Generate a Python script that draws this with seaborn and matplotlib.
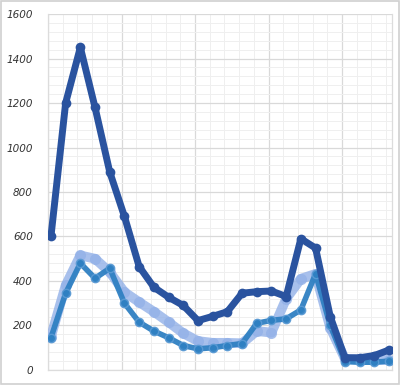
import numpy as np
import pandas as pd
import seaborn as sns
import matplotlib.pyplot as plt
from matplotlib.ticker import FixedLocator, MultipleLocator
from matplotlib.patches import Rectangle

hours = list(range(24))
series_dark = [600, 1200, 1450, 1180, 890, 690, 465, 372, 327, 290, 222, 241,
               262, 345, 352, 355, 330, 590, 548, 240, 55, 55, 65, 90]
series_mid = [145, 345, 480, 412, 457, 300, 215, 175, 145, 110, 95, 100,
              110, 119, 210, 223, 230, 270, 432, 200, 38, 35, 35, 40]
series_light = [150, 380, 515, 500, 440, 350, 305, 262, 215, 165, 130, 122,
                122, 120, 175, 168, 320, 410, 432, 190, 50, 45, 45, 45]
y_ticks = [0, 200, 400, 600, 800, 1000, 1200, 1400, 1600]

sns.set_theme(style="white")
plt.rcParams['font.family'] = ['DejaVu Sans']

fig = plt.figure(figsize=(4.0, 3.85), dpi=100)
ax = fig.add_axes([0.12, 0.039, 0.86, 0.9246])

df = pd.DataFrame({"hour": hours, "dark": series_dark, "mid": series_mid, "light": series_light})

sns.lineplot(data=df, x="hour", y="light", ax=ax, color="#93b1e8", lw=7,
             marker="o", markersize=8, markeredgewidth=0, alpha=0.8, zorder=3)
sns.lineplot(data=df, x="hour", y="mid", ax=ax, color="#2f80c2", lw=4,
             marker="o", markersize=6, markeredgecolor="#5a9ad4", markeredgewidth=1.0,
             alpha=0.95, zorder=4)
sns.lineplot(data=df, x="hour", y="dark", ax=ax, color="#2a539f", lw=5,
             marker="o", markersize=7, markeredgewidth=0, zorder=5)

ax.set_xlim(-0.2, 23.2)
ax.set_ylim(0, 1600)
ax.set_xlabel("")
ax.set_ylabel("")
ax.xaxis.set_major_locator(FixedLocator([-0.2 + 5 * k for k in range(5)]))
ax.xaxis.set_minor_locator(FixedLocator([-0.2 + k for k in range(24)]))
ax.yaxis.set_major_locator(FixedLocator(y_ticks))
ax.yaxis.set_minor_locator(MultipleLocator(40))
ax.set_xticklabels([])
ax.set_yticks(y_ticks)
ax.set_yticklabels([str(v) for v in y_ticks], fontsize=7.5, color="#333333", style="italic")
ax.tick_params(axis="both", which="both", length=0)
ax.tick_params(axis="y", pad=11)
ax.grid(which="major", color="#d9d9d9", lw=0.9, zorder=0)
ax.grid(which="minor", color="#efefef", lw=0.7, zorder=0)
ax.set_axisbelow(True)
for s in ax.spines.values():
    s.set_visible(True)
    s.set_color("#dcdcdc")
    s.set_linewidth(0.9)
ax.spines["top"].set_visible(False)

fig.patches.append(Rectangle((0.002, 0.002), 0.996, 0.996, transform=fig.transFigure,
                             fill=False, edgecolor="#d0d0d0", lw=1.2))
fig.savefig("out.png", dpi=100, facecolor="white")
